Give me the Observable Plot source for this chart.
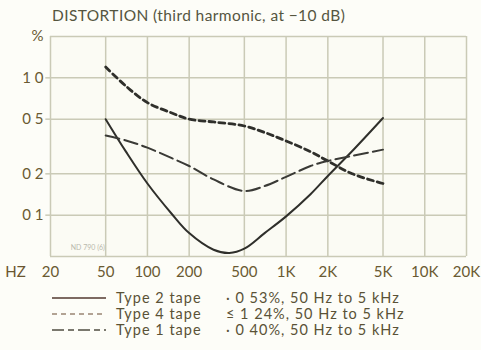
<!DOCTYPE html>
<html><head><meta charset="utf-8">
<script src="https://cdn.jsdelivr.net/npm/d3@7"></script>
<script src="https://cdn.jsdelivr.net/npm/@observablehq/plot@0.6"></script>
<style>
body{margin:0;background:#fdfdf8;}
#wrap{position:relative;width:481px;height:350px;overflow:hidden;font-family:Lato,"Open Sans",sans-serif;color:#5a5236;}
#title{position:absolute;left:52px;top:6px;font-size:15.5px;color:#55553f;white-space:nowrap;letter-spacing:0.4px;}
#chart{position:absolute;left:0;top:0;}
.leg{position:absolute;left:0;height:14px;width:481px;font-size:14.5px;line-height:14px;white-space:nowrap;letter-spacing:1px;}
.leg svg{position:absolute;left:52px;top:1px;}
.leg .name{position:absolute;left:116px;top:0px;}
.leg .val{position:absolute;left:226px;top:0px;}
</style></head><body>
<div id="wrap">
<div id="title">DISTORTION (third harmonic, at −10 dB)</div>
<div id="chart"></div>
<div id="legend"></div>
</div>
<script>
const freqTicks=[20,50,100,200,500,1000,2000,5000,10000,20000];
const freqLabels=["20","50","100","200","500","1K","2K","5K","10K","20K"];
const pctTicks=[0.05,0.1,0.2,0.5,1,2];
const pctLabels=["","0 1","0 2","0 5","1 0","%"];

const type2Freq=[50,70,100,150,200,300,390,500,700,1000,1500,2000,3000,5000];
const type2Pct=[0.50,0.29,0.17,0.102,0.074,0.056,0.053,0.057,0.074,0.098,0.142,0.193,0.293,0.51];
const type4Freq=[50,70,100,150,200,300,500,700,1000,1500,2000,3000,5000];
const type4Pct=[1.2,0.87,0.66,0.555,0.5,0.477,0.446,0.40,0.347,0.29,0.248,0.2,0.17];
const type1Freq=[50,70,100,150,200,300,500,700,1000,1500,2000,3000,5000];
const type1Pct=[0.38,0.35,0.31,0.26,0.228,0.182,0.15,0.163,0.19,0.228,0.248,0.27,0.30];

const seriesNames=["Type 2 tape","Type 4 tape","Type 1 tape"];
const seriesNotes=["·  0 53%, 50 Hz to 5 kHz","≤ 1 24%, 50 Hz to 5 kHz","·  0 40%, 50 Hz to 5 kHz"];

const toRows=(f,p)=>f.map((x,i)=>({f:x,p:p[i]}));
const s2=toRows(type2Freq,type2Pct), s4=toRows(type4Freq,type4Pct), s1=toRows(type1Freq,type1Pct);

const grid="#cacab6";
const ink="#2f2f2b";
const labelInk="#6a5a32";
const plot=Plot.plot({
  width:481,height:290,
  marginLeft:50,marginRight:15,marginTop:36,marginBottom:34,
  style:{background:"transparent",fontFamily:"Lato, 'Open Sans', sans-serif",color:"#5e5432",overflow:"visible"},
  x:{type:"log",domain:[20,20000],axis:null},
  y:{type:"log",domain:[0.05,2],axis:null},
  marks:[
    Plot.frame({fill:"#fbfbf4"}),
    Plot.ruleX(freqTicks,{stroke:grid,strokeWidth:1.5}),
    Plot.ruleY(pctTicks,{stroke:grid,strokeWidth:1.5}),
    Plot.ruleY(pctTicks.slice(1,5),{x1:18.5,x2:20,stroke:grid,strokeWidth:1.5}),
    Plot.text(["ND 790 (6)"],{x:28,y:0.058,text:d=>d,fontSize:7,fill:"#b9b9ac",textAnchor:"start"}),
    Plot.line(s2,{x:"f",y:"p",curve:"catmull-rom",stroke:ink,strokeWidth:2}),
    Plot.line(s4,{x:"f",y:"p",curve:"catmull-rom",stroke:ink,strokeWidth:2.8,strokeDasharray:"6,4"}),
    Plot.line(s1,{x:"f",y:"p",curve:"catmull-rom",stroke:"#3a3a36",strokeWidth:2,strokeDasharray:"14,5"}),
    Plot.text(freqTicks,{x:d=>d,y:0.05,text:(d,i)=>freqLabels[i],dy:16,fontSize:15,fill:labelInk,lineAnchor:"middle"}),
    Plot.text(pctTicks,{x:20,y:d=>d,text:(d,i)=>pctLabels[i],dx:-7,fontSize:15,fill:labelInk,textAnchor:"end",lineAnchor:"middle"}),
    Plot.text(["HZ"],{x:20,y:0.05,text:d=>d,dx:-35,dy:16,fontSize:15,fill:"#6a5530",lineAnchor:"middle"})
  ]
});
document.getElementById("chart").appendChild(plot);

const legStyles=[{c:"#7d6a62",w:1.8,d:null},{c:"#b2a394",w:1.8,d:"5,4"},{c:"#7a786e",w:1.8,d:"12,4,6,4"}];
const legTops=[291,307,323];
const legend=document.getElementById("legend");
seriesNames.forEach((n,i)=>{
  const row=document.createElement("div");row.className="leg";row.style.top=legTops[i]+"px";
  const st=legStyles[i];
  row.innerHTML=`<svg width="56" height="12"><line x1="0" x2="54" y1="6" y2="6" stroke="${st.c}" stroke-width="${st.w}" ${st.d?`stroke-dasharray="${st.d}"`:""}/></svg><span class="name">${n}</span><span class="val">${seriesNotes[i]}</span>`;
  legend.appendChild(row);
});
</script>
</body></html>
